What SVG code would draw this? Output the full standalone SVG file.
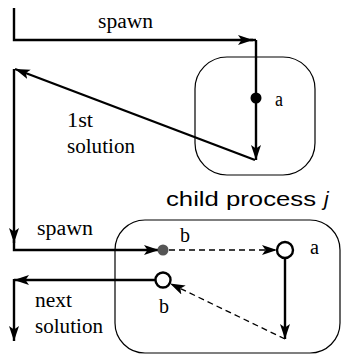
<svg xmlns="http://www.w3.org/2000/svg" width="341" height="354" viewBox="0 0 341 354">
<style>
.bg{fill:#ffffff}
.box{fill:none;stroke:#000;stroke-width:1.2}
.ln{fill:none;stroke:#000;stroke-width:2.4}
.dash{fill:none;stroke:#000;stroke-width:1.3;stroke-dasharray:6 4}
.lbl{font-family:"Liberation Serif","Times New Roman",serif;font-size:20px;fill:#000}
.title{font-family:"Liberation Sans",Arial,sans-serif;font-size:21px;fill:#000}
</style>
<defs>
<marker id="ah" markerUnits="userSpaceOnUse" markerWidth="16" markerHeight="11" refX="15" refY="5" orient="auto">
<path d="M0,0 L15,5 L0,10 L3.5,5 z" fill="#000"/>
</marker>
</defs>
<rect class="bg" x="0" y="0" width="341" height="354"/>
<g id="parent-top">
<rect class="box" x="195" y="57" width="120" height="118" rx="32" ry="32"/>
</g>
<g id="child-box">
<rect class="box" x="115" y="220" width="225" height="133" rx="30" ry="30"/>
</g>
<g id="connectors">
<path class="ln" d="M14,8 V40 H253" marker-end="url(#ah)"/>
<path class="ln" d="M250,40 H256"/>
<path class="ln" d="M256,40 V160" marker-end="url(#ah)"/>
<path class="ln" d="M255,160 L15,69" marker-end="url(#ah)"/>
<path class="ln" d="M14,69 V243" marker-end="url(#ah)"/>
<path class="ln" d="M14,240 V250 H159" marker-end="url(#ah)"/>
<path class="dash" d="M169,250 H277" marker-end="url(#ah)"/>
<path class="ln" d="M285,258 V339" marker-end="url(#ah)"/>
<path class="dash" d="M285,339 L170,283.5" marker-end="url(#ah)"/>
<path class="ln" d="M155.5,280 H14" marker-end="url(#ah)"/>
<path class="ln" d="M14,279 V341" marker-end="url(#ah)"/>
</g>
<g id="node-a-top">
<circle cx="256" cy="98" r="5.5" fill="#000"/>
<text class="lbl" x="275" y="106" textLength="8" lengthAdjust="spacingAndGlyphs">a</text>
</g>
<g id="node-b-start">
<circle cx="163" cy="250" r="5.5" fill="#555"/>
<text class="lbl" x="180" y="242" textLength="10" lengthAdjust="spacingAndGlyphs">b</text>
</g>
<g id="node-a-child">
<circle cx="285" cy="250" r="8" fill="#fff" stroke="#000" stroke-width="2.4"/>
<text class="lbl" x="310" y="254" textLength="9" lengthAdjust="spacingAndGlyphs">a</text>
</g>
<g id="node-b-end">
<circle cx="163" cy="280" r="7.5" fill="#fff" stroke="#000" stroke-width="2.4"/>
<text class="lbl" x="159" y="313" textLength="10" lengthAdjust="spacingAndGlyphs">b</text>
</g>
<g id="labels">
<text class="lbl" x="98" y="28" textLength="55" lengthAdjust="spacingAndGlyphs">spawn</text>
<text class="lbl" x="67" y="127" textLength="26" lengthAdjust="spacingAndGlyphs">1st</text>
<text class="lbl" x="67" y="153" textLength="68" lengthAdjust="spacingAndGlyphs">solution</text>
<text class="title" x="166" y="206" textLength="150" lengthAdjust="spacingAndGlyphs">child process</text>
<text class="title" x="324" y="206" font-style="italic">j</text>
<text class="lbl" x="37" y="235" textLength="56" lengthAdjust="spacingAndGlyphs">spawn</text>
<text class="lbl" x="35" y="307" textLength="37" lengthAdjust="spacingAndGlyphs">next</text>
<text class="lbl" x="35" y="333" textLength="68" lengthAdjust="spacingAndGlyphs">solution</text>
</g>
</svg>
